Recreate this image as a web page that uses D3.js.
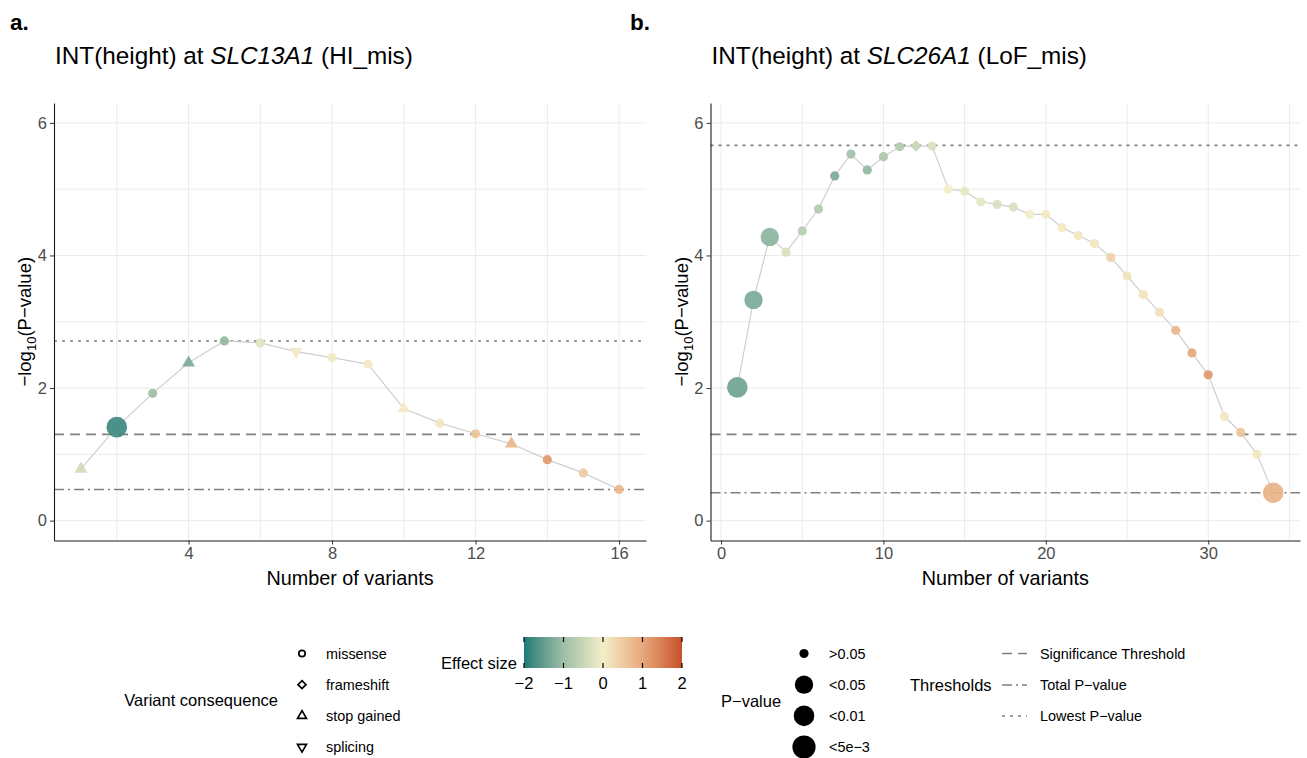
<!DOCTYPE html>
<html>
<head>
<meta charset="utf-8">
<script src="https://cdn.jsdelivr.net/npm/d3@7"></script>
<style>
  body { margin: 0; background: #fff; }
  svg { font-family: "Liberation Sans", Arial, sans-serif; }
</style>
</head>
<body>
<svg id="chart" width="1307" height="758"></svg>
<script>
// ---- data ----
const variantsA = [1, 2, 3, 4, 5, 6, 7, 8, 9, 10, 11, 12, 13, 14, 15, 16]
const logpA = [0.78, 1.41, 1.92, 2.38, 2.71, 2.68, 2.55, 2.46, 2.36, 1.69, 1.47, 1.31, 1.16, 0.92, 0.72, 0.47]
const effectA = [-0.4, -1.8, -1.0, -1.3, -1.1, -0.2, 0.05, 0.05, 0.05, 0.05, 0.1, 0.6, 0.8, 1.2, 0.5, 0.8]
const shapeA = ['stop gained', 'missense', 'missense', 'stop gained', 'missense', 'missense', 'splicing', 'missense',
  'missense', 'stop gained', 'missense', 'missense', 'stop gained', 'missense', 'missense', 'missense']
const pcatA = ['>0.05', '<0.01', '>0.05', '>0.05', '>0.05', '>0.05', '>0.05', '>0.05',
  '>0.05', '>0.05', '>0.05', '>0.05', '>0.05', '>0.05', '>0.05', '>0.05']
const thresholdsA = [1.301, 0.47, 2.71] // significance, total, lowest

const variantsB = [1, 2, 3, 4, 5, 6, 7, 8, 9, 10, 11, 12, 13, 14, 15, 16, 17,
  18, 19, 20, 21, 22, 23, 24, 25, 26, 27, 28, 29, 30, 31, 32, 33, 34]
const logpB = [2.01, 3.33, 4.28, 4.05, 4.37, 4.70, 5.20, 5.53, 5.29, 5.49, 5.64, 5.65, 5.65, 5.00, 4.97, 4.81, 4.77,
  4.73, 4.62, 4.62, 4.42, 4.30, 4.18, 3.97, 3.69, 3.41, 3.14, 2.87, 2.53, 2.20, 1.57, 1.33, 1.00, 0.42]
const effectB = [-1.4, -1.3, -1.15, -0.3, -0.7, -0.75, -1.3, -0.95, -1.1, -0.85, -0.75, -0.5, -0.3, 0, -0.15, -0.15, -0.3,
  -0.3, 0, 0.05, 0.05, 0.1, 0.1, 0.4, 0.15, 0.15, 0.2, 0.8, 1.0, 1.2, 0.1, 0.6, 0.1, 0.85]
const shapeB = variantsB.map((v, i) => i === 11 ? 'frameshift' : 'missense')
const pcatB = variantsB.map((v, i) => i === 0 || i === 33 ? '<0.01' : (i === 1 || i === 2 ? '<0.05' : '>0.05'))
const thresholdsB = [1.301, 0.42, 5.66]

const shapeNames = ['missense', 'frameshift', 'stop gained', 'splicing']
const pcatNames = ['>0.05', '<0.05', '<0.01', '<5e\u22123']
const thresholdNames = ['Significance Threshold', 'Total P\u2212value', 'Lowest P\u2212value']
const effectTicks = [-2, -1, 0, 1, 2]

// ---- scales & helpers ----
const svg = d3.select('#chart')
const color = d3.scaleLinear()
  .domain([-2, -1, 0, 1, 2])
  .range(['#1b7b78', '#9dbfa6', '#f3eec8', '#e6a87c', '#c6502b'])
  .interpolate(d3.interpolateLab)
const radius = d3.scaleOrdinal().domain(pcatNames).range([4.6, 9.2, 10.3, 11.6])
const dashes = ['10,6', '10,4,2,4', '3,5']
const minus = d => d < 0 ? '\u2212' + Math.abs(d) : String(d)

const shapePath = (shape, r) => {
  if (shape === 'missense') return d3.symbol(d3.symbolCircle, Math.PI * r * r)()
  if (shape === 'frameshift') {
    const s = r * 1.25
    return `M0,${-s}L${s},0L0,${s}L${-s},0Z`
  }
  const s = r * 2.8
  const h = s * Math.sqrt(3) / 2
  if (shape === 'stop gained') return `M0,${-h * 2 / 3}L${s / 2},${h / 3}L${-s / 2},${h / 3}Z`
  return `M0,${h * 2 / 3}L${s / 2},${-h / 3}L${-s / 2},${-h / 3}Z`
}

const drawPanel = (cfg) => {
  const { left, right, top, bottom } = cfg
  const x = d3.scaleLinear().domain(cfg.xDomain).range([left, right])
  const y = d3.scaleLinear().domain([-0.3, 6.3]).range([bottom, top])
  const g = svg.append('g')

  // grid
  g.selectAll('.gx').data(cfg.xGrid).enter().append('line')
    .attr('x1', d => x(d)).attr('x2', d => x(d)).attr('y1', top).attr('y2', bottom)
    .attr('stroke', '#ebebeb').attr('stroke-width', 1)
  g.selectAll('.gy').data([0, 1, 2, 3, 4, 5, 6]).enter().append('line')
    .attr('x1', left).attr('x2', right).attr('y1', d => y(d)).attr('y2', d => y(d))
    .attr('stroke', '#ebebeb').attr('stroke-width', 1)

  // threshold lines
  g.selectAll('.thr').data(cfg.thresholds).enter().append('line')
    .attr('x1', left).attr('x2', right).attr('y1', d => y(d)).attr('y2', d => y(d))
    .attr('stroke', '#7f7f7f').attr('stroke-width', 1.6)
    .attr('stroke-dasharray', (d, i) => dashes[i])

  const pts = cfg.xs.map((v, i) => ({ x: v, y: cfg.ys[i], e: cfg.effects[i], s: cfg.shapes[i], p: cfg.pcats[i] }))

  g.append('path')
    .datum(pts)
    .attr('fill', 'none').attr('stroke', '#cfcfcf').attr('stroke-width', 1.2)
    .attr('d', d3.line().x(d => x(d.x)).y(d => y(d.y)))

  g.selectAll('.pt').data(pts).enter().append('path')
    .attr('transform', d => `translate(${x(d.x)},${y(d.y)})`)
    .attr('d', d => shapePath(d.s, radius(d.p)))
    .attr('fill', d => color(d.e))
    .attr('opacity', 0.92)

  // axes
  const ax = g.append('g').attr('transform', `translate(0,${bottom})`)
    .call(d3.axisBottom(x).tickValues(cfg.xTicks).tickFormat(d3.format('d'))
      .tickSize(4).tickSizeOuter(0).tickPadding(3))
  const ay = g.append('g').attr('transform', `translate(${left},0)`)
    .call(d3.axisLeft(y).tickValues([0, 2, 4, 6]).tickFormat(d3.format('d'))
      .tickSize(4).tickSizeOuter(0).tickPadding(3))
  ;[ax, ay].forEach(a => {
    a.select('.domain').attr('stroke', '#1a1a1a').attr('stroke-width', 1.1)
    a.selectAll('.tick line').attr('stroke', '#333')
    a.selectAll('.tick text').attr('fill', '#4d4d4d').attr('font-size', 16.5)
      .attr('font-family', '"Liberation Sans", Arial, sans-serif')
  })

  // titles
  svg.append('text').attr('x', cfg.tagX).attr('y', 30)
    .attr('font-size', 22.5).attr('font-weight', 'bold').text(cfg.tag)
  const t = svg.append('text').attr('x', left + 1).attr('y', 64).attr('font-size', 24.3)
  t.append('tspan').text('INT(height) at ')
  t.append('tspan').attr('font-style', 'italic').text(cfg.gene)
  t.append('tspan').text(' ' + cfg.mask)

  svg.append('text').attr('x', (left + right) / 2).attr('y', 585)
    .attr('text-anchor', 'middle').attr('font-size', 19.8).text('Number of variants')

  const yl = svg.append('text')
    .attr('transform', `translate(${left - 23},${(top + bottom) / 2}) rotate(-90)`)
    .attr('text-anchor', 'middle').attr('font-size', 18.5)
  yl.append('tspan').text('\u2212log')
  yl.append('tspan').attr('font-size', 13).attr('dy', 5).text('10')
  yl.append('tspan').attr('dy', -5).text('(P\u2212value)')
}

drawPanel({
  left: 54, right: 646, top: 103, bottom: 540.5,
  xDomain: [0.25, 16.75], xTicks: [4, 8, 12, 16], xGrid: [2, 4, 6, 8, 10, 12, 14, 16],
  xs: variantsA, ys: logpA, effects: effectA, shapes: shapeA, pcats: pcatA, thresholds: thresholdsA,
  tag: 'a.', tagX: 10, gene: 'SLC13A1', mask: '(HI_mis)'
})
drawPanel({
  left: 710.5, right: 1300, top: 103, bottom: 540.5,
  xDomain: [-0.65, 35.65], xTicks: [0, 10, 20, 30], xGrid: [0, 5, 10, 15, 20, 25, 30, 35],
  xs: variantsB, ys: logpB, effects: effectB, shapes: shapeB, pcats: pcatB, thresholds: thresholdsB,
  tag: 'b.', tagX: 630, gene: 'SLC26A1', mask: '(LoF_mis)'
})

// ---- legends ----
const lg = svg.append('g').attr('font-size', 14.4)
const keyY = d3.scalePoint().domain([0, 1, 2, 3]).range([653.5, 747])

lg.append('text').attr('x', 278).attr('y', 706).attr('text-anchor', 'end')
  .attr('font-size', 16.5).text('Variant consequence')
lg.selectAll('.shp').data(shapeNames).enter().append('path')
  .attr('transform', (d, i) => `translate(302,${keyY(i)})`)
  .attr('d', d => shapePath(d, 3.2))
  .attr('fill', 'none').attr('stroke', '#000').attr('stroke-width', 1.7)
lg.selectAll('.shl').data(shapeNames).enter().append('text')
  .attr('x', 326).attr('y', (d, i) => keyY(i) + 5).text(d => d)

// colorbar
const cb = { x0: 524, x1: 682, y0: 637, y1: 668 }
const cbx = d3.scaleLinear().domain([-2, 2]).range([cb.x0, cb.x1])
const grad = svg.append('defs').append('linearGradient').attr('id', 'effgrad')
grad.selectAll('stop').data(d3.range(0, 1.0001, 0.05)).enter().append('stop')
  .attr('offset', d => d).attr('stop-color', d => color(-2 + 4 * d))
lg.append('rect').attr('x', cb.x0).attr('y', cb.y0).attr('width', cb.x1 - cb.x0).attr('height', cb.y1 - cb.y0)
  .attr('fill', 'url(#effgrad)')
lg.selectAll('.cbt').data(effectTicks).enter().append('path')
  .attr('d', d => `M${cbx(d)},${cb.y0}v5M${cbx(d)},${cb.y1}v-5`)
  .attr('stroke', '#000').attr('stroke-width', 1.2)
lg.selectAll('.cbl').data(effectTicks).enter().append('text')
  .attr('x', d => cbx(d)).attr('y', 689).attr('text-anchor', 'middle').attr('font-size', 16.5)
  .text(d => minus(d))
lg.append('text').attr('x', 441).attr('y', 669).attr('font-size', 16.5).text('Effect size')

// p-value sizes
lg.append('text').attr('x', 721).attr('y', 707).attr('font-size', 16.5).text('P\u2212value')
lg.selectAll('.pk').data(pcatNames).enter().append('circle')
  .attr('cx', 804).attr('cy', (d, i) => keyY(i)).attr('r', d => radius(d)).attr('fill', '#000')
lg.selectAll('.pl').data(pcatNames).enter().append('text')
  .attr('x', 829).attr('y', (d, i) => keyY(i) + 5).text(d => d)

// thresholds
lg.append('text').attr('x', 910).attr('y', 691).attr('font-size', 16.5).text('Thresholds')
const thrKeyY = [653.5, 685, 716]
lg.selectAll('.tk').data(thresholdNames).enter().append('line')
  .attr('x1', 1002).attr('x2', 1027).attr('y1', (d, i) => thrKeyY[i]).attr('y2', (d, i) => thrKeyY[i])
  .attr('stroke', '#7f7f7f').attr('stroke-width', 1.6)
  .attr('stroke-dasharray', (d, i) => dashes[i])
lg.selectAll('.tl').data(thresholdNames).enter().append('text')
  .attr('x', 1040).attr('y', (d, i) => thrKeyY[i] + 5).text(d => d)
</script>
</body>
</html>
